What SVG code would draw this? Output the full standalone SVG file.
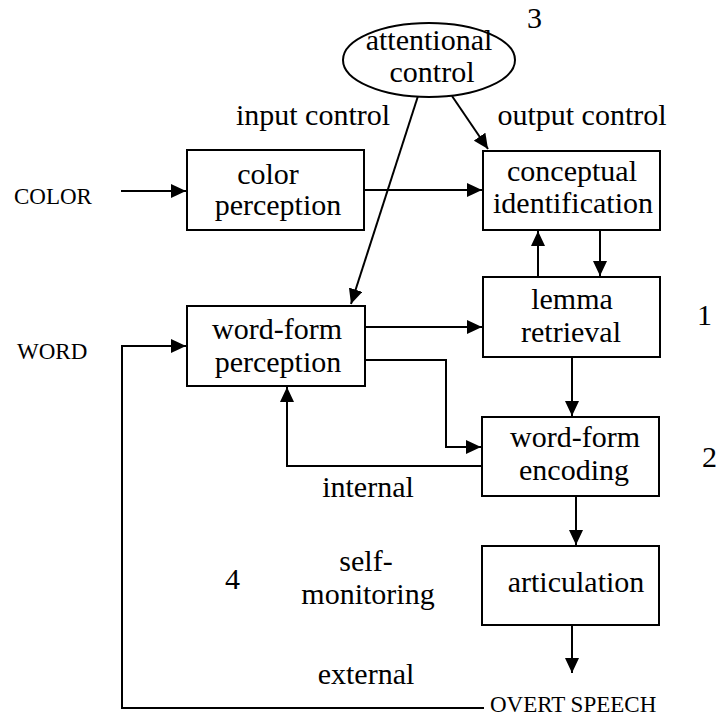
<svg xmlns="http://www.w3.org/2000/svg" width="716" height="717" viewBox="0 0 716 717" font-family="'Liberation Serif', 'DejaVu Serif', serif">
  <style>
    .box { fill: #fff; stroke: #000; stroke-width: 2; }
    .t { font-family: 'Liberation Serif', 'DejaVu Serif', serif; font-size: 30px; fill: #000; text-anchor: middle; }
    .lbl { font-family: 'Liberation Serif', 'DejaVu Serif', serif; font-size: 30px; fill: #000; }
    .caps { font-family: 'Liberation Serif', 'DejaVu Serif', serif; font-size: 23px; fill: #000; }
    .c { fill: none; stroke: #000; stroke-width: 2; }
  </style>
  <defs>
    <marker id="ah" viewBox="0 0 15 14" refX="15" refY="7" markerWidth="15" markerHeight="14" markerUnits="userSpaceOnUse" orient="auto">
      <path d="M0,0 L15,7 L0,14 z" fill="#000"/>
    </marker>
  </defs>
  <rect width="716" height="717" fill="#fff"/>

  <g id="connectors">
    <path class="c" d="M121,191 H186" marker-end="url(#ah)"/>
    <path class="c" d="M364,190 H482" marker-end="url(#ah)"/>
    <path class="c" d="M418,96 L351,304" marker-end="url(#ah)"/>
    <path class="c" d="M452,96 L488,149" marker-end="url(#ah)"/>
    <path class="c" d="M538,277 V231" marker-end="url(#ah)"/>
    <path class="c" d="M600,230 V276" marker-end="url(#ah)"/>
    <path class="c" d="M365,327 H482" marker-end="url(#ah)"/>
    <path class="c" d="M365,360 H446 V447 H481" marker-end="url(#ah)"/>
    <path class="c" d="M572,357 V416" marker-end="url(#ah)"/>
    <path class="c" d="M482,466 H287 V387" marker-end="url(#ah)"/>
    <path class="c" d="M576,496 V545" marker-end="url(#ah)"/>
    <path class="c" d="M572,625 V673" marker-end="url(#ah)"/>
    <path class="c" d="M484,708 H122 V346 H186" marker-end="url(#ah)"/>
  </g>

  <g id="attentional-control">
    <ellipse cx="429" cy="60" rx="86" ry="37" fill="#fff" stroke="#000" stroke-width="2"/>
    <text class="t" x="429" y="50">attentional</text>
    <text class="t" x="432" y="82">control</text>
  </g>

  <g id="color-perception">
    <rect class="box" x="187" y="150" width="177" height="80"/>
    <text class="t" x="268" y="184">color</text>
    <text class="t" x="278" y="215">perception</text>
  </g>

  <g id="conceptual-identification">
    <rect class="box" x="483" y="151" width="177" height="79"/>
    <text class="t" x="572" y="181">conceptual</text>
    <text class="t" x="573" y="213">identification</text>
  </g>

  <g id="lemma-retrieval">
    <rect class="box" x="483" y="277" width="177" height="80"/>
    <text class="t" x="572" y="309">lemma</text>
    <text class="t" x="571" y="342">retrieval</text>
  </g>

  <g id="word-form-perception">
    <rect class="box" x="187" y="306" width="178" height="80"/>
    <text class="t" x="277" y="339">word-form</text>
    <text class="t" x="278" y="372">perception</text>
  </g>

  <g id="word-form-encoding">
    <rect class="box" x="482" y="417" width="177" height="79"/>
    <text class="t" x="575" y="447">word-form</text>
    <text class="t" x="574" y="480">encoding</text>
  </g>

  <g id="articulation">
    <rect class="box" x="482" y="546" width="177" height="79"/>
    <text class="t" x="576" y="592">articulation</text>
  </g>

  <g id="labels">
    <text class="lbl" x="527" y="28">3</text>
    <text class="lbl" x="697" y="325">1</text>
    <text class="lbl" x="702" y="467">2</text>
    <text class="lbl" x="225" y="589">4</text>
    <text class="t" x="313" y="125">input control</text>
    <text class="t" x="582" y="125">output control</text>
    <text class="t" x="368" y="497">internal</text>
    <text class="t" x="366" y="571">self-</text>
    <text class="t" x="368" y="604">monitoring</text>
    <text class="t" x="366" y="684">external</text>
    <text class="caps" x="14" y="204">COLOR</text>
    <text class="caps" x="17" y="359">WORD</text>
    <text class="caps" x="490" y="712">OVERT SPEECH</text>
  </g>
</svg>
